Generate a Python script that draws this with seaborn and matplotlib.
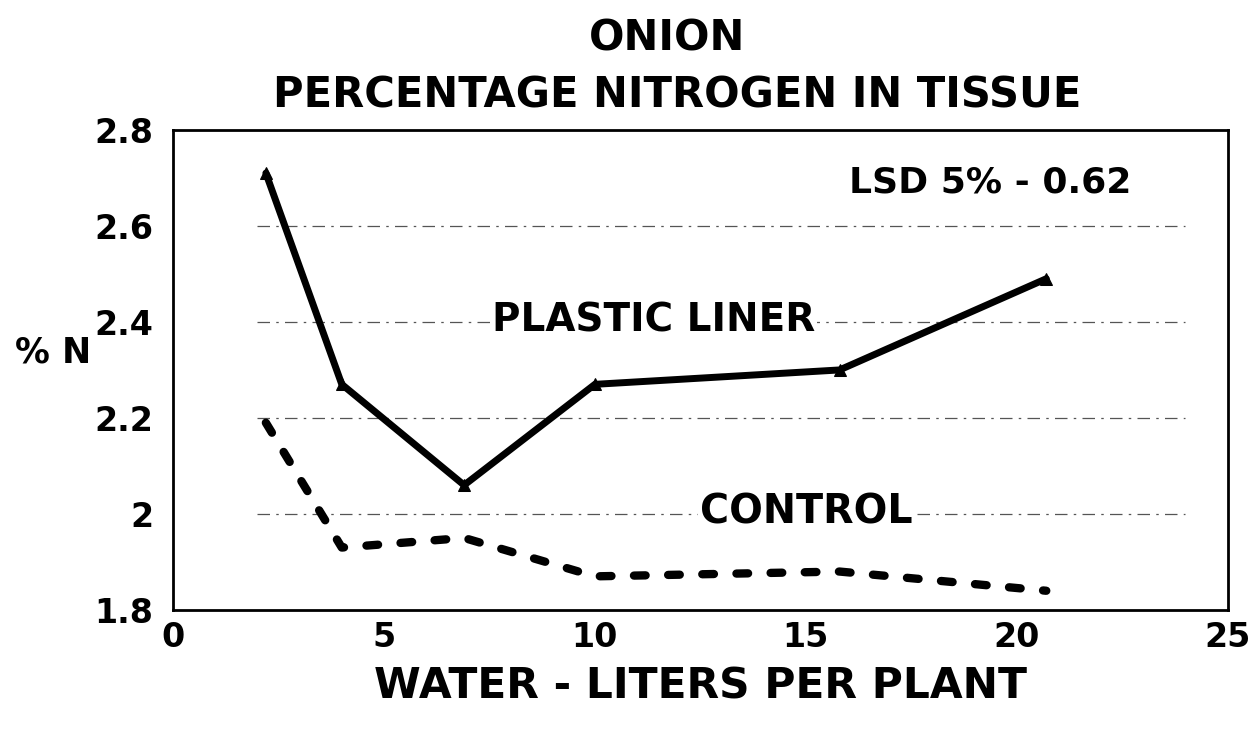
import pandas as pd
import seaborn as sns
import matplotlib.pyplot as plt
from matplotlib.ticker import MultipleLocator

# water applied (liters per plant) and % N in tissue
water = [2.2, 4.0, 6.9, 10.0, 15.8, 20.7]
plastic_liner = [2.71, 2.27, 2.06, 2.27, 2.30, 2.49]
control = [2.19, 1.93, 1.95, 1.87, 1.88, 1.84]

x_ticks = [0, 5, 10, 15, 20, 25]
y_ticks = [1.8, 2.0, 2.2, 2.4, 2.6, 2.8]
y_tick_labels = ['1.8', '2', '2.2', '2.4', '2.6', '2.8']

df = pd.DataFrame({
    'water': water * 2,
    'pct_n': plastic_liner + control,
    'treatment': ['PLASTIC LINER'] * len(water) + ['CONTROL'] * len(water),
})

sns.set_style('white')
plt.rcParams['font.family'] = ['DejaVu Sans']
plt.rcParams['font.weight'] = 'bold'
for key in ['text.color', 'axes.labelcolor', 'xtick.color', 'ytick.color']:
    plt.rcParams[key] = 'black'

fig = plt.figure(figsize=(12.54, 7.34), dpi=100)
ax = fig.add_axes([0.138, 0.169, 0.841, 0.654])

sns.lineplot(data=df[df.treatment == 'PLASTIC LINER'], x='water', y='pct_n',
             color='black', linewidth=5, marker='^', markersize=9,
             markeredgecolor='black', ax=ax, zorder=3)
sns.lineplot(data=df[df.treatment == 'CONTROL'], x='water', y='pct_n',
             color='black', linewidth=6, ax=ax, zorder=3)
ax.lines[-1].set_dashes([1.4, 2.7])
ax.lines[-1].set_dash_capstyle('round')

# faint dash-dot reference lines
for y in [2.0, 2.2, 2.4, 2.6]:
    ax.axhline(y, xmin=0.08, xmax=0.96, color='#555555', linewidth=0.9,
               linestyle=(0, (10, 5, 2, 5)), zorder=1)

ax.set_xlim(0, 25)
ax.set_ylim(1.8, 2.8)
ax.set_xticks(x_ticks)
ax.set_yticks(y_ticks)
ax.set_yticklabels(y_tick_labels)
ax.yaxis.set_minor_locator(MultipleLocator(0.1))
ax.tick_params(axis='both', direction='in', labelsize=24, width=2)
ax.tick_params(axis='y', which='major', length=12, pad=14)
ax.tick_params(axis='y', which='minor', length=5, width=2, direction='in')
ax.tick_params(axis='x', which='major', length=8, pad=8)
for s in ax.spines.values():
    s.set_linewidth(2)
    s.set_color('black')

ax.set_xlabel('WATER - LITERS PER PLANT', fontsize=30.5, fontweight='bold', labelpad=8)
ax.set_ylabel('% N', fontsize=25, fontweight='bold', rotation=0)
ax.yaxis.set_label_coords(-0.114, 0.50)

box = dict(facecolor='white', edgecolor='none', pad=1)
ax.text(19.36, 2.69, 'LSD 5% - 0.62', fontsize=26, fontweight='bold', ha='center', va='center')
ax.text(11.4, 2.404, 'PLASTIC LINER', fontsize=28, fontweight='bold', ha='center', va='center', bbox=box, zorder=2)
ax.text(15.0, 2.004, 'CONTROL', fontsize=28.5, fontweight='bold', ha='center', va='center', bbox=box, zorder=2)

fig.text(0.532, 0.948, 'ONION', fontsize=30, fontweight='bold', ha='center', va='center')
fig.text(0.54, 0.87, 'PERCENTAGE NITROGEN IN TISSUE', fontsize=30, fontweight='bold', ha='center', va='center')

fig.savefig('out.png', dpi=100)
